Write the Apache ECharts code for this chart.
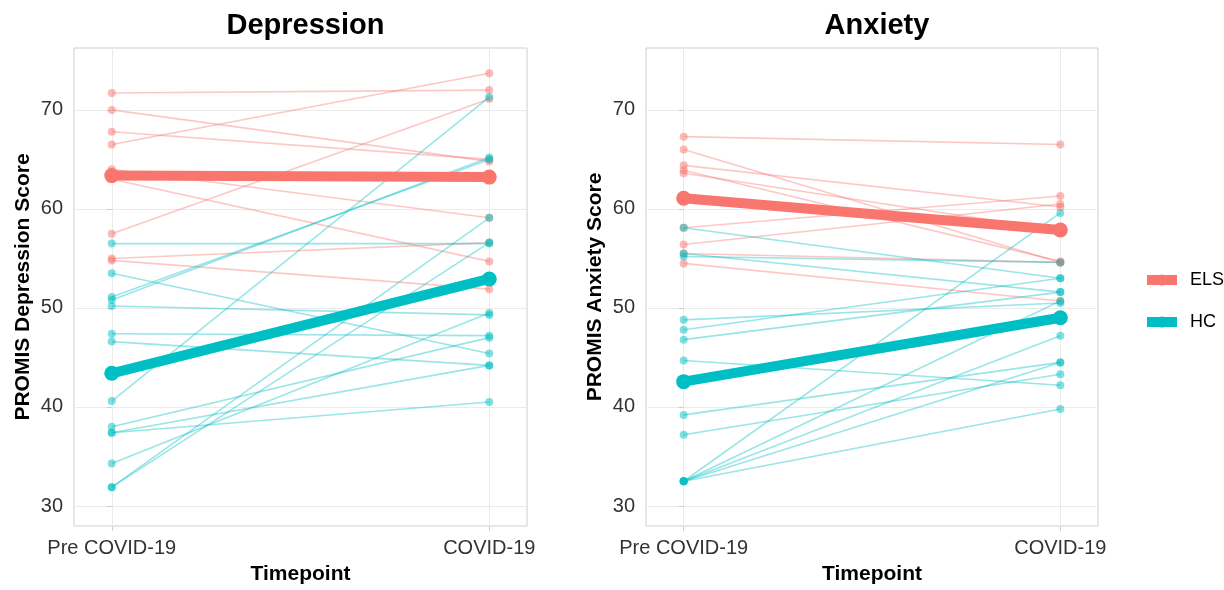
<!DOCTYPE html>
<html>
<head>
<meta charset="utf-8">
<script src="https://cdn.jsdelivr.net/npm/echarts@6/dist/echarts.min.js"></script>
<style>
  html, body { margin: 0; padding: 0; background: #ffffff; }
  #chart { width: 1224px; height: 590px; }
</style>
</head>
<body>
<div id="chart"></div>
<script>
// Timepoints on the x axis (positions 0 and 1)
const timepoints = ['Pre COVID-19', 'COVID-19'];
const groups = ['ELS', 'HC'];
const panelTitles = ['Depression', 'Anxiety'];
const yTitles = ['PROMIS Depression Score', 'PROMIS Anxiety Score'];
const yTicks = [30, 40, 50, 60, 70];

// PROMIS Depression scores, one entry per participant
const depElsPre   = [71.7, 70.0, 67.8, 66.5, 64.0, 63.0, 57.5, 55.0, 54.8];
const depElsCovid = [72.0, 64.8, 65.0, 73.7, 59.1, 54.7, 71.1, 56.6, 51.9];
const depHcPre    = [56.5, 53.5, 51.1, 50.8, 50.2, 47.4, 46.6, 40.6, 38.0, 37.4, 37.4, 34.3, 31.9, 31.9];
const depHcCovid  = [56.5, 45.4, 65.0, 65.2, 49.3, 47.2, 44.2, 71.3, 47.0, 40.5, 44.2, 49.5, 59.1, 56.6];

// PROMIS Anxiety scores, one entry per participant
const anxElsPre   = [67.3, 66.0, 64.4, 63.9, 63.6, 58.1, 56.4, 55.5, 54.5];
const anxElsCovid = [66.5, 54.6, 60.2, 54.7, 57.8, 61.3, 60.5, 54.6, 50.7];
const anxHcPre    = [58.1, 55.5, 55.2, 48.8, 47.8, 46.8, 44.7, 39.2, 37.2, 32.5, 32.5, 32.5, 32.5, 32.5];
const anxHcCovid  = [53.0, 51.6, 54.6, 50.5, 53.0, 51.6, 42.2, 44.5, 43.3, 59.6, 50.7, 47.2, 44.5, 39.8];

const colors = { ELS: '#F8766D', HC: '#00BFC4' };
const FONT = 'Liberation Sans, Arial, Helvetica, sans-serif';

const panels = [
  { ELS: [depElsPre, depElsCovid], HC: [depHcPre, depHcCovid] },
  { ELS: [anxElsPre, anxElsCovid], HC: [anxHcPre, anxHcCovid] }
];

const mean = arr => arr.reduce((s, v) => s + v, 0) / arr.length;

// Panel geometry
const gridTop = 48, gridHeight = 479;
const lefts = [74, 646], widths = [453, 452];
const yMin = 27.98, yMax = 76.25;

const grids = [], xAxes = [], yAxes = [], series = [], titles = [];

panels.forEach((panel, p) => {
  grids.push({
    left: lefts[p], top: gridTop, width: widths[p], height: gridHeight,
    show: true, borderColor: '#CFCFCF', borderWidth: 1, backgroundColor: '#ffffff'
  });
  xAxes.push({
    type: 'value', gridIndex: p, min: -0.1, max: 1.1,
    name: 'Timepoint', nameLocation: 'middle', nameGap: 38,
    nameTextStyle: { fontFamily: FONT, fontSize: 21, fontWeight: 'bold', color: '#000' },
    axisLine: { show: false },
    axisTick: { show: true, length: 5, customValues: [0, 1], lineStyle: { color: '#CFCFCF' } },
    axisLabel: {
      customValues: [0, 1], margin: 12, fontFamily: FONT, fontSize: 20, color: '#333',
      formatter: v => timepoints[Math.round(v)]
    },
    splitLine: { show: true, lineStyle: { color: '#EBEBEB', width: 1 } }
  });
  yAxes.push({
    type: 'value', gridIndex: p, min: yMin, max: yMax,
    name: yTitles[p], nameLocation: 'middle', nameGap: 40,
    nameTextStyle: { fontFamily: FONT, fontSize: 21, fontWeight: 'bold', color: '#000' },
    axisLine: { show: false },
    axisTick: { show: true, length: 5, customValues: yTicks, lineStyle: { color: '#CFCFCF' } },
    axisLabel: { customValues: yTicks, margin: 11, fontFamily: FONT, fontSize: 20, color: '#333' },
    splitLine: { show: true, lineStyle: { color: '#EBEBEB', width: 1 } }
  });
  titles.push({
    text: panelTitles[p], left: lefts[p] + widths[p] / 2, top: 6, textAlign: 'center',
    textStyle: { fontFamily: FONT, fontSize: 29, fontWeight: 'bold', color: '#000' }
  });

  // Individual trajectories
  groups.forEach(g => {
    const [pre, post] = panel[g];
    pre.forEach((v, i) => {
      series.push({
        type: 'line', name: g, xAxisIndex: p, yAxisIndex: p, silent: true,
        data: [[0, v], [1, post[i]]],
        symbol: 'circle', symbolSize: 8,
        lineStyle: { color: colors[g], width: 1.6, opacity: 0.4 },
        itemStyle: { color: colors[g], opacity: 0.5 },
        z: 2
      });
    });
  });

  // Group means
  groups.forEach(g => {
    const [pre, post] = panel[g];
    series.push({
      type: 'line', name: g, xAxisIndex: p, yAxisIndex: p, silent: true,
      data: [[0, mean(pre)], [1, mean(post)]],
      symbol: 'circle', symbolSize: 15,
      lineStyle: { color: colors[g], width: 10, opacity: 1 },
      itemStyle: { color: colors[g], opacity: 1 },
      z: 3
    });
  });
});

const chart = echarts.init(document.getElementById('chart'), null, { renderer: 'canvas' });
chart.setOption({
  animation: false,
  backgroundColor: '#ffffff',
  title: titles,
  grid: grids,
  xAxis: xAxes,
  yAxis: yAxes,
  legend: {
    orient: 'vertical', left: 1142, top: 271, padding: 0,
    itemWidth: 30, itemHeight: 14, itemGap: 24,
    data: groups.map(g => ({ name: g, itemStyle: { color: colors[g], opacity: 1 }, lineStyle: { color: colors[g], width: 10, opacity: 1 } })),
    textStyle: { fontFamily: FONT, fontSize: 18, color: '#000', padding: [0, 0, 0, 8] },
    selectedMode: false
  },
  series: series
});
</script>
</body>
</html>
